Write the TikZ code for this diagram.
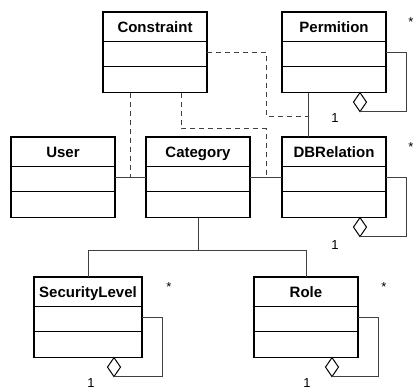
\documentclass[tikz,border=0pt]{standalone}
\usepackage{fontspec}
\setmainfont{Liberation Sans}
\usetikzlibrary{shapes.multipart,shapes.geometric,calc}

\tikzset{
  umlclass/.style={draw, line width=1.2pt, rectangle split, rectangle split parts=3,
    inner xsep=0pt, inner ysep=0pt, outer sep=0pt, minimum width=104pt, anchor=north west,
    font=\fontsize{15}{18}\selectfont\bfseries},
  link/.style={draw=black!75, line width=0.9pt},
  dep/.style={link, dash pattern=on 5pt off 4pt},
  agg/.style={draw, line width=1pt, fill=white, shape=diamond, inner sep=0pt, outer sep=0pt,
    minimum width=13pt, minimum height=19pt, anchor=north},
  mult/.style={font=\fontsize{13}{15}\selectfont},
}
\newcommand{\classbox}[1]{\rule[-8.5pt]{0pt}{28pt}#1\nodepart{two}\rule{0pt}{24pt}\nodepart{three}\rule{0pt}{25pt}}

\begin{document}
\begin{tikzpicture}[x=1pt,y=-1pt]
    \useasboundingbox (0,0) rectangle (413,389);
    % classes
    \node[umlclass] (constraint) at (103,12) {\classbox{Constraint}};
    \node[umlclass] (permition) at (282,12) {\classbox{Permition}};
    \node[umlclass] (user) at (11,137) {\classbox{User}};
    \node[umlclass] (category) at (146,137) {\classbox{Category}};
    \node[umlclass] (dbrelation) at (282,137) {\classbox{DBRelation}};
    \node[umlclass, minimum width=108pt] (securitylevel) at (34,277) {\classbox{SecurityLevel}};
    \node[umlclass] (role) at (254,277) {\classbox{Role}};

    \coordinate (uc) at ($(user.east)!0.5!(category.west)$);
    \coordinate (cd) at ($(category.east)!0.5!(dbrelation.west)$);
    \coordinate (pd) at ($(permition.south west)!0.25!(permition.south east)$);
    \coordinate (fork) at ($(category.south)+(0,33)$);

    % associations
    \draw[link] (user.east) -- (category.west);
    \draw[link] (category.east) -- (dbrelation.west);
    \draw[link] (pd) -- (pd |- dbrelation.north);
    \draw[link] (category.south) -- (fork);
    \draw[link] (securitylevel.north) |- (fork) -| (role.north);

    % dependencies
    \draw[dep] (uc |- constraint.south) -- (uc);
    \draw[dep] ($(constraint.south west)+(78,0)$) -- ++(0,36) -| (cd);
    \draw[dep] (constraint.east) -- ++(59,0) |- ($(pd)+(0,24)$);

    % aggregations
    \node[agg] (permagg) at ($(permition.south east)+(-26,0)$) {};
    \node[agg] (dbagg) at ($(dbrelation.south east)+(-26,0)$) {};
    \node[agg] (secagg) at ($(securitylevel.south east)+(-28,0)$) {};
    \node[agg] (roleagg) at ($(role.south east)+(-26,0)$) {};
    \draw[link] (permition.east) -- ++(20,0) |- (permagg.south);
    \draw[link] (dbrelation.east) -- ++(20,0) |- (dbagg.south);
    \draw[link] (securitylevel.east) -- ++(20,0) |- (secagg.south);
    \draw[link] (role.east) -- ++(20,0) |- (roleagg.south);

    % multiplicities
    \node[mult] (permstar) at (411,22) {*};
    \node[mult] (dbstar) at (411,147) {*};
    \node[mult] (secstar) at (169,287) {*};
    \node[mult] (rolestar) at (384,287) {*};
    \node[mult] (permone) at (335,118) {1};
    \node[mult] (dbone) at (335,245) {1};
    \node[mult] (secone) at (91,383) {1};
    \node[mult] (roleone) at (307,383) {1};
\end{tikzpicture}
\end{document}
